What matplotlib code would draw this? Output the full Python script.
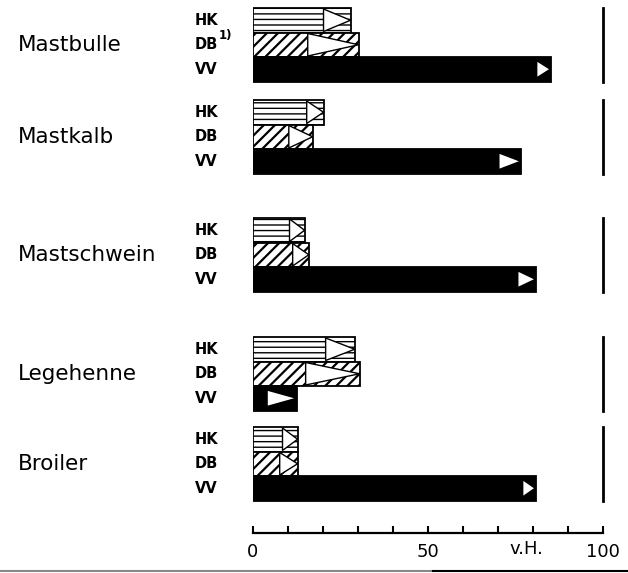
import matplotlib.pyplot as plt
from matplotlib.lines import Line2D
from matplotlib.transforms import blended_transform_factory

# Werte in v.H.; *_tri = Beginn des Pfeils (Dreieck) innerhalb des Balkens
tiere = ["Mastbulle", "Mastkalb", "Mastschwein", "Legehenne", "Broiler"]
reihen = ["HK", "DB", "VV"]
hk = [27.9, 20.2, 14.8, 29.1, 12.8]
hk_tri = [20.2, 15.4, 10.5, 20.8, 8.5]
db = [30.2, 17.1, 16.0, 30.5, 12.8]
db_tri = [15.7, 10.3, 11.4, 15.1, 7.7]
vv = [85.2, 76.6, 80.9, 12.5, 80.9]
vv_tri = [81.2, 70.4, 75.8, 4.3, 77.2]
ticks = [0, 10, 20, 30, 40, 50, 60, 70, 80, 90, 100]
ticklabels = ["0", "", "", "", "", "50", "", "", "", "", "100"]

# layout: top of each group in pixel rows, bar height
tops = [8, 100, 218, 337, 427]
h = 24.5

fig = plt.figure(figsize=(6.28, 5.73), dpi=100)
ax = fig.add_axes([252.7 / 628, 40 / 573, 350.6 / 628, 533 / 573])
ax.set_xlim(0, 100)
ax.set_ylim(533, 0)
trans = blended_transform_factory(fig.transFigure, ax.transData)

def triangle(start, end, yc, half, face, edge):
    ax.fill([start, start, end], [yc - half, yc + half, yc],
            facecolor=face, edgecolor=edge, lw=1.0, zorder=3)

def hatched(y, w, pattern, hlw):
    with plt.rc_context({"hatch.linewidth": hlw}):
        bars = ax.barh(y, w, height=h, color="white", edgecolor="black",
                       hatch=pattern, lw=1.3, zorder=2)
    for b in bars:
        if hasattr(b, "set_hatch_linewidth"):
            b.set_hatch_linewidth(hlw)

for i, top in enumerate(tops):
    y_hk, y_db, y_vv = top + h / 2, top + 1.5 * h, top + 2.5 * h
    hatched(y_hk, hk[i], "---", 1.0)
    hatched(y_db, db[i], "///", 1.6)
    ax.barh(y_vv, vv[i], height=h, color="black", edgecolor="black",
            lw=1.3, zorder=2)
    triangle(hk_tri[i], hk[i], y_hk, h / 2 - 1, "white", "black")
    triangle(db_tri[i], db[i], y_db, h / 2 - 1, "white", "black")
    triangle(vv_tri[i], vv[i] - 0.7, y_vv, h * 0.3, "white", "none")
    ax.plot([100, 100], [top, top + 3 * h], color="black", lw=2,
            clip_on=False, zorder=2)

    ax.text(18 / 628, y_db, tiere[i], transform=trans, fontsize=15.5,
            va="center", ha="left")
    for k, y in enumerate([y_hk, y_db, y_vv]):
        ax.text(195 / 628, y, reihen[k], transform=trans, fontsize=10.5,
                fontweight="bold", va="center", ha="left")

# Fussnotenzeichen bei DB (Mastbulle)
ax.text(219 / 628, tops[0] + 1.5 * h - 3, "1)", transform=trans,
        fontsize=8.5, fontweight="bold", va="bottom", ha="left")

for s in ["left", "top", "right"]:
    ax.spines[s].set_visible(False)
ax.spines["bottom"].set_linewidth(1.6)
ax.set_yticks([])
ax.set_xticks(ticks)
ax.set_xticklabels(ticklabels, fontsize=13)
ax.tick_params(axis="x", direction="in", length=5, width=1.5, pad=7)
ax.text(78, 540, "v.H.", fontsize=13, ha="center", va="top")

fig.add_artist(Line2D([0, 0.69], [0.003, 0.003], color="#888888", lw=1.5))
fig.add_artist(Line2D([0.69, 1], [0.003, 0.003], color="black", lw=1.5))

fig.savefig("out.png", dpi=100)
